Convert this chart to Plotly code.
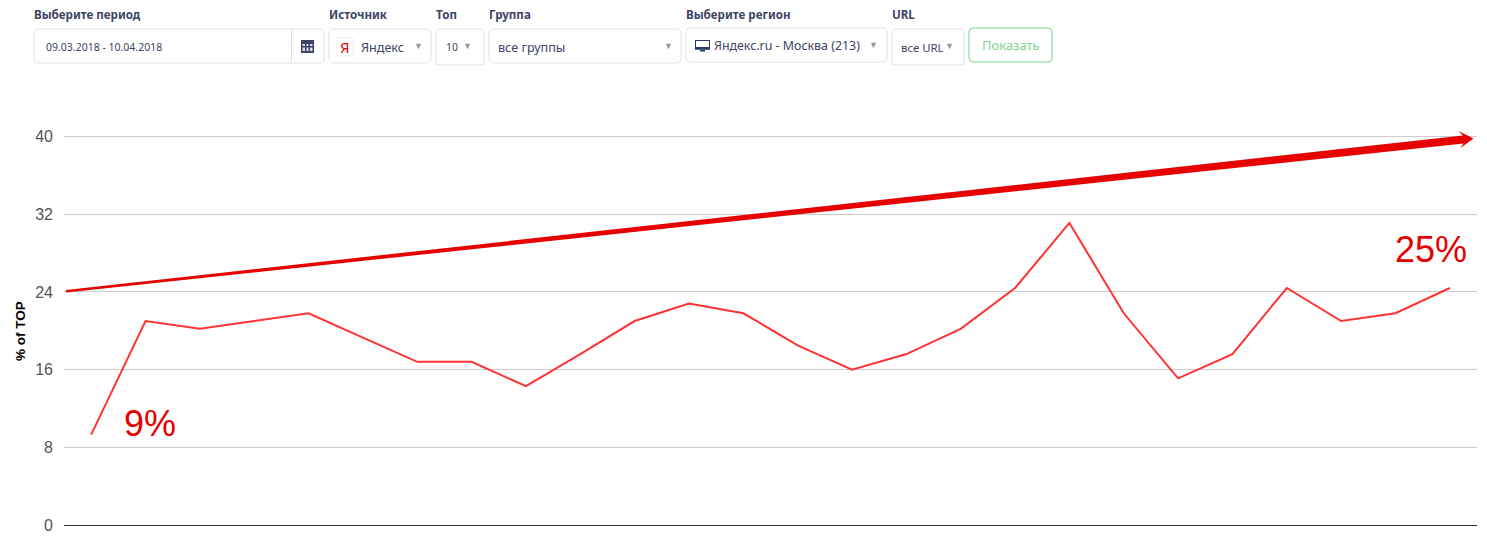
import plotly.graph_objects as go

days = list(range(1, 27))
top_share = [9.3, 21.0, 20.2, 21.0, 21.8, 19.3, 16.8, 16.8, 14.3, 17.6, 21.0, 22.8, 21.8,
             18.5, 16.0, 17.6, 20.2, 24.4, 31.1, 21.8, 15.1, 17.6, 24.4, 21.0, 21.8, 24.4]
y_ticks = [0, 8, 16, 24, 32, 40]

W, H = 1487, 537
LEFT, RIGHT, TOP, BOTTOM = 64, 1477, 131, 525
UI_FONT = 'Noto Sans'
RED = '#e60000'
# 40 sits a little under the top of the plot so its grid line is kept
Y_MAX = 40 * (BOTTOM - TOP) / 388.5


# the picture is laid out in pixels, paper coords are relative to the plot area
def px(x):
    return (x - LEFT) / (RIGHT - LEFT)


def py(y):
    return (BOTTOM - y) / (BOTTOM - TOP)


def poly(points, color):
    path = 'M ' + ' L '.join(f'{px(x):.5f},{py(y):.5f}' for x, y in points) + ' Z'
    return dict(type='path', xref='paper', yref='paper', path=path,
                fillcolor=color, line=dict(width=0), layer='above')


def box(x0, y0, x1, y1, color='#dfe3ec', fill='white', r=4):
    path = (f'M {px(x0 + r):.5f},{py(y0):.5f} L {px(x1 - r):.5f},{py(y0):.5f} '
            f'Q {px(x1):.5f},{py(y0):.5f} {px(x1):.5f},{py(y0 + r):.5f} '
            f'L {px(x1):.5f},{py(y1 - r):.5f} '
            f'Q {px(x1):.5f},{py(y1):.5f} {px(x1 - r):.5f},{py(y1):.5f} '
            f'L {px(x0 + r):.5f},{py(y1):.5f} '
            f'Q {px(x0):.5f},{py(y1):.5f} {px(x0):.5f},{py(y1 - r):.5f} '
            f'L {px(x0):.5f},{py(y0 + r):.5f} '
            f'Q {px(x0):.5f},{py(y0):.5f} {px(x0 + r):.5f},{py(y0):.5f} Z')
    return dict(type='path', xref='paper', yref='paper', path=path,
                fillcolor=fill, line=dict(width=1, color=color), layer='above')


def label(x, y, text, size=11, color='#3d4465', bold=False, anchor='left', font=UI_FONT, angle=0):
    return dict(xref='paper', yref='paper', x=px(x), y=py(y), text=f'<b>{text}</b>' if bold else text,
                showarrow=False, xanchor=anchor, yanchor='middle', textangle=angle,
                font=dict(family=font, size=size, color=color), borderpad=0, borderwidth=0)


def rect(x0, y0, x1, y1, color):
    return dict(type='rect', xref='paper', yref='paper', x0=px(x0), x1=px(x1), y0=py(y0), y1=py(y1),
                fillcolor=color, line=dict(width=0), layer='above')


fig = go.Figure()
fig.add_trace(go.Scatter(x=days, y=top_share, mode='lines', line=dict(color='#ff3333', width=2),
                         hoverinfo='skip', showlegend=False))

shapes = [
    # big trend arrow
    poly([(66, 290), (1463, 135.5), (1458.5, 131), (1473.5, 138.5), (1460.5, 148), (1463.5, 143.5), (66, 292.5)], RED),
    # filter controls
    box(34, 29, 324, 63),
    dict(type='line', xref='paper', yref='paper', x0=px(291.5), x1=px(291.5), y0=py(29), y1=py(63),
         line=dict(color='#dfe3ec', width=1), layer='above'),
    box(329, 29, 431, 63),
    box(436, 29, 484, 65),
    box(489, 29, 681, 63),
    box(686, 28, 887, 62),
    box(892, 29, 964, 65),
    box(969, 28, 1052, 62, color='#7dd38f'),
    # calendar icon
    rect(301, 40, 314, 53, '#3d4465'),
    rect(302.5, 44, 305, 46, '#d9dbe4'),
    rect(306.5, 44, 308.5, 46, '#d9dbe4'),
    rect(310, 44, 312.5, 46, '#d9dbe4'),
    rect(302.5, 47.5, 305, 51, '#d9dbe4'),
    rect(306.5, 47.5, 308.5, 51, '#d9dbe4'),
    rect(310, 47.5, 312.5, 51, '#d9dbe4'),
    # yandex logo
    box(337, 38, 353, 56, color='#eeeeee', r=1),
    # monitor icon
    rect(695, 40, 710, 49.5, '#2b3a67'),
    rect(696, 41, 709, 47.5, '#ffffff'),
    rect(695, 47, 710, 49.5, '#2b3a67'),
    rect(700, 50, 705, 51.5, '#2b3a67'),
]

annotations = [
    label(20, 331, '% of TOP', size=13.5, color='black', bold=True, anchor='center',
          font='Liberation Sans', angle=-90),
    label(123.5, 423.5, '9%', size=36, color=RED, font='Liberation Sans'),
    label(1395, 249.5, '25%', size=36, color=RED, font='Liberation Sans'),
    label(34, 14.5, 'Выберите период', size=11.6, bold=True),
    label(329, 14.5, 'Источник', size=11.6, bold=True),
    label(436, 14.5, 'Топ', size=11.6, bold=True),
    label(489, 14.5, 'Группа', size=11.6, bold=True),
    label(686, 14.5, 'Выберите регион', size=11.6, bold=True),
    label(892, 14.5, 'URL', size=11.6, bold=True),
    label(46, 47, '09.03.2018 - 10.04.2018', size=10.5),
    label(361, 47, 'Яндекс', size=12.6),
    label(345, 47, 'Я', size=15, color='#e01010', anchor='center'),
    label(446, 47, '10', size=10.5),
    label(498, 47.5, 'все группы', size=12.6),
    label(714, 46, 'Яндекс.ru - Москва (213)', size=12.4),
    label(901, 47, 'все URL', size=11.4),
    label(1011, 45, 'Показать', size=13, color='#7dd38f', anchor='center'),
]
for x, y in [(418, 46), (468, 46), (668, 46), (873, 45), (949, 46)]:
    annotations.append(label(x, y, '▼', size=9, color='#999999', anchor='center'))

fig.update_layout(
    width=W, height=H,
    margin=dict(l=LEFT, r=W - RIGHT, t=TOP, b=H - BOTTOM, pad=0),
    paper_bgcolor='white', plot_bgcolor='white',
    font=dict(family='Liberation Sans'),
    showlegend=False,
    shapes=shapes,
    annotations=annotations,
)
fig.update_xaxes(range=[0.5, 26.5], showgrid=False, showticklabels=False, ticks='', zeroline=False,
                 showline=False, automargin=False)
fig.update_yaxes(range=[0, Y_MAX], tickvals=y_ticks, showgrid=True, gridcolor='#cccccc', gridwidth=1,
                 zeroline=True, zerolinecolor='#333333', zerolinewidth=1, showline=False, ticks='',
                 automargin=False, ticklabelstandoff=10,
                 tickfont=dict(size=16, color='#555555', family='Liberation Sans'))

# the page's default body margin would push the figure off the window
fig.write_html("out.html", config=dict(displayModeBar=False),
               post_script="document.body.style.margin='0';document.body.style.overflow='hidden';")
